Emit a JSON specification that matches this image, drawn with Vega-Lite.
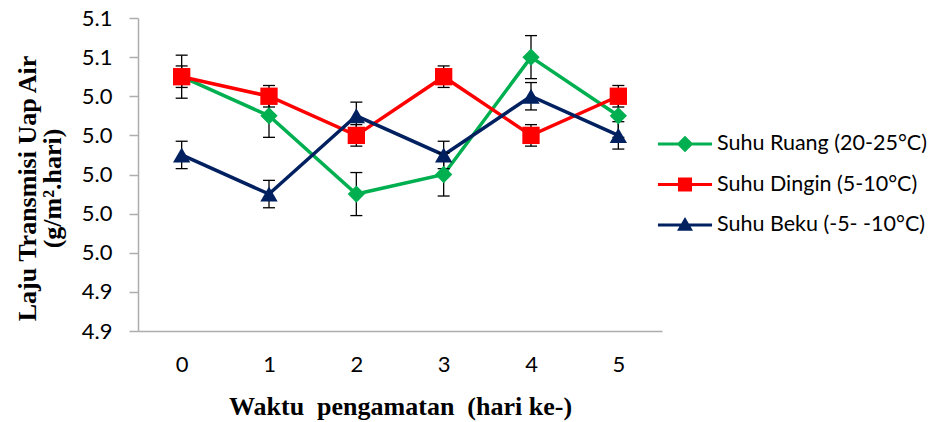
{
  "$schema": "https://vega.github.io/schema/vega-lite/v6.json",
  "autosize": "none",
  "width": 524,
  "height": 313,
  "padding": {"left": 138, "top": 18, "right": 268, "bottom": 91},
  "background": "white",
  "config": {
    "view": {"stroke": null},
    "axis": {"grid": false}
  },
  "data": {
    "values": [
      {"day": 0, "series": "Suhu Ruang (20-25°C)", "value": 5.05, "lo": 5.039, "hi": 5.061},
      {"day": 1, "series": "Suhu Ruang (20-25°C)", "value": 5.03, "lo": 5.019, "hi": 5.041},
      {"day": 2, "series": "Suhu Ruang (20-25°C)", "value": 4.99, "lo": 4.979, "hi": 5.001},
      {"day": 3, "series": "Suhu Ruang (20-25°C)", "value": 5.00, "lo": 4.989, "hi": 5.011},
      {"day": 4, "series": "Suhu Ruang (20-25°C)", "value": 5.06, "lo": 5.049, "hi": 5.071},
      {"day": 5, "series": "Suhu Ruang (20-25°C)", "value": 5.03, "lo": 5.019, "hi": 5.041},
      {"day": 0, "series": "Suhu Dingin (5-10°C)", "value": 5.05, "lo": 5.0445, "hi": 5.0555},
      {"day": 1, "series": "Suhu Dingin (5-10°C)", "value": 5.04, "lo": 5.0345, "hi": 5.0455},
      {"day": 2, "series": "Suhu Dingin (5-10°C)", "value": 5.02, "lo": 5.0145, "hi": 5.0255},
      {"day": 3, "series": "Suhu Dingin (5-10°C)", "value": 5.05, "lo": 5.0445, "hi": 5.0555},
      {"day": 4, "series": "Suhu Dingin (5-10°C)", "value": 5.02, "lo": 5.0145, "hi": 5.0255},
      {"day": 5, "series": "Suhu Dingin (5-10°C)", "value": 5.04, "lo": 5.0345, "hi": 5.0455},
      {"day": 0, "series": "Suhu Beku (-5- -10°C)", "value": 5.01, "lo": 5.003, "hi": 5.017},
      {"day": 1, "series": "Suhu Beku (-5- -10°C)", "value": 4.99, "lo": 4.983, "hi": 4.997},
      {"day": 2, "series": "Suhu Beku (-5- -10°C)", "value": 5.03, "lo": 5.023, "hi": 5.037},
      {"day": 3, "series": "Suhu Beku (-5- -10°C)", "value": 5.01, "lo": 5.003, "hi": 5.017},
      {"day": 4, "series": "Suhu Beku (-5- -10°C)", "value": 5.04, "lo": 5.033, "hi": 5.047},
      {"day": 5, "series": "Suhu Beku (-5- -10°C)", "value": 5.02, "lo": 5.013, "hi": 5.027}
    ]
  },
  "encoding": {
    "x": {
      "field": "day", "type": "ordinal",
      "scale": {"type": "point", "padding": 0.5},
      "axis": {
        "title": "Waktu\u00a0 pengamatan\u00a0 (hari ke-)",
        "labelAngle": 0, "ticks": false,
        "labelFont": "Lato", "labelFontSize": 22, "labelColor": "#000000", "labelPadding": 23,
        "domainColor": "#ADADAD", "domainWidth": 1.5,
        "titleFont": "Liberation Serif", "titleFontSize": 26, "titleFontWeight": "bold", "titleColor": "#000000", "titlePadding": 18
      }
    },
    "y": {
      "field": "value", "type": "quantitative",
      "scale": {"domain": [4.92, 5.08], "nice": false, "zero": false},
      "axis": {
        "values": [4.92, 4.94, 4.96, 4.98, 5.0, 5.02, 5.04, 5.06, 5.08],
        "format": ".1f",
        "title": ["Laju Transmisi Uap Air", "(g/m².hari)"],
        "labelFont": "Lato", "labelFontSize": 22, "labelColor": "#000000", "labelPadding": 17,
        "tickSize": 9, "tickColor": "#ADADAD", "tickWidth": 1.5,
        "domainColor": "#ADADAD", "domainWidth": 1.5,
        "titleFont": "Liberation Serif", "titleFontSize": 26, "titleFontWeight": "bold", "titleColor": "#000000",
        "titleLineHeight": 25, "titlePadding": 16, "titleY": 170
      }
    }
  },
  "layer": [
    {
      "mark": {"type": "line", "strokeWidth": 3.5},
      "encoding": {
        "color": {
          "field": "series", "type": "nominal",
          "scale": {"domain": ["Suhu Ruang (20-25°C)", "Suhu Dingin (5-10°C)", "Suhu Beku (-5- -10°C)"], "range": ["#00B050", "#FF0000", "#002060"]},
          "legend": null
        }
      }
    },
    {
      "mark": {"type": "rule", "color": "#000000", "strokeWidth": 1.3},
      "encoding": {"y": {"field": "lo", "type": "quantitative"}, "y2": {"field": "hi"}, "detail": {"field": "series"}}
    },
    {
      "mark": {"type": "tick", "color": "#000000", "thickness": 1.3, "size": 12, "opacity": 1},
      "encoding": {"y": {"field": "lo", "type": "quantitative"}}
    },
    {
      "mark": {"type": "tick", "color": "#000000", "thickness": 1.3, "size": 12, "opacity": 1},
      "encoding": {"y": {"field": "hi", "type": "quantitative"}}
    },
    {
      "mark": {"type": "point", "filled": true, "opacity": 1, "size": 300},
      "encoding": {
        "color": {
          "field": "series", "type": "nominal",
          "scale": {"domain": ["Suhu Ruang (20-25°C)", "Suhu Dingin (5-10°C)", "Suhu Beku (-5- -10°C)"], "range": ["#00B050", "#FF0000", "#002060"]},
          "legend": null
        },
        "shape": {
          "field": "series", "type": "nominal",
          "scale": {"domain": ["Suhu Ruang (20-25°C)", "Suhu Dingin (5-10°C)", "Suhu Beku (-5- -10°C)"], "range": ["diamond", "square", "triangle-up"]},
          "legend": null
        }
      }
    },
    {
      "transform": [{"filter": "false"}],
      "mark": {"type": "point", "filled": true, "opacity": 1, "size": 1024},
      "encoding": {
        "color": {
          "field": "series", "type": "nominal",
          "scale": {"domain": ["Suhu Ruang (20-25°C)", "Suhu Dingin (5-10°C)", "Suhu Beku (-5- -10°C)"], "range": ["#00B050", "#FF0000", "#002060"]},
          "legend": {
            "title": null, "orient": "none", "legendX": 531, "legendY": 110,
            "symbolSize": 1024, "symbolStrokeWidth": 0, "symbolOpacity": 1,
            "labelFont": "Lato", "labelFontSize": 21.5, "labelColor": "#000000", "labelOffset": 16,
            "rowPadding": 13.5, "padding": 0, "labelLimit": 300
          }
        },
        "shape": {
          "field": "series", "type": "nominal",
          "scale": {"domain": ["Suhu Ruang (20-25°C)", "Suhu Dingin (5-10°C)", "Suhu Beku (-5- -10°C)"],
            "range": [
              "M-1.69,-0.094H1.69V0.094H-1.69Z M0,-0.52L0.52,0L0,0.52L-0.52,0Z",
              "M-1.69,-0.094H1.69V0.094H-1.69Z M-0.44,-0.44H0.44V0.44H-0.44Z",
              "M-1.69,-0.094H1.69V0.094H-1.69Z M0,-0.5L0.5,0.36L-0.5,0.36Z"
            ]},
          "legend": {
            "title": null, "orient": "none", "legendX": 531, "legendY": 110,
            "symbolSize": 1024, "symbolStrokeWidth": 0, "symbolOpacity": 1,
            "labelFont": "Lato", "labelFontSize": 21.5, "labelColor": "#000000", "labelOffset": 16,
            "rowPadding": 13.5, "padding": 0, "labelLimit": 300
          }
        }
      }
    }
  ],
  "resolve": {"scale": {"shape": "independent"}, "legend": {"color": "independent", "shape": "independent"}}
}
